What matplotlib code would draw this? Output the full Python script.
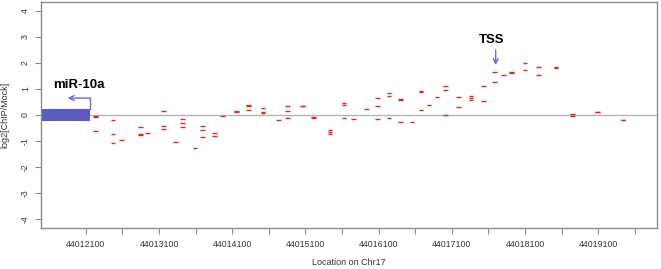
import numpy as np
import matplotlib
matplotlib.use("Agg")
import matplotlib.pyplot as plt
from matplotlib.patches import Rectangle

plt.rcParams['font.family'] = ['Liberation Sans', 'DejaVu Sans']

# probe positions on chr17 and the log2 ratios read at each one
positions = [44012233, 44012233, 44012233,
             44012469, 44012469, 44012469,
             44012588,
             44012848, 44012848, 44012848,
             44012944,
             44013157, 44013157, 44013157,
             44013326,
             44013422, 44013422, 44013422,
             44013590,
             44013690, 44013690, 44013690,
             44013860, 44013860,
             44013969,
             44014160, 44014160,
             44014319, 44014319, 44014319,
             44014520, 44014520, 44014520,
             44014729,
             44014852, 44014852, 44014852,
             44015057, 44015057,
             44015208, 44015208,
             44015436, 44015436, 44015436,
             44015627, 44015627, 44015627,
             44015757,
             44015938,
             44016083, 44016083, 44016083,
             44016243, 44016243, 44016243,
             44016403, 44016403, 44016403,
             44016557,
             44016680, 44016680, 44016680,
             44016790,
             44016899,
             44017018, 44017018, 44017018,
             44017190, 44017190,
             44017364, 44017364, 44017364,
             44017538, 44017538,
             44017688, 44017688,
             44017806,
             44017915, 44017915,
             44018102, 44018102,
             44018284, 44018284,
             44018526, 44018526,
             44018749, 44018749,
             44019091, 44019091,
             44019438, 44019438]
log_ratio = [-0.03, -0.09, -0.63,
             -0.18, -0.73, -1.09,
             -0.97,
             -0.46, -0.72, -0.76,
             -0.69,
             0.15, -0.41, -0.53,
             -1.03,
             -0.17, -0.32, -0.45,
             -1.26,
             -0.42, -0.58, -0.85,
             -0.69, -0.80,
             -0.04,
             0.15, 0.12,
             0.38, 0.35, 0.18,
             0.26, 0.12, 0.09,
             -0.19,
             0.33, 0.15, -0.13,
             0.36, 0.33,
             -0.08, -0.12,
             -0.57, -0.65, -0.73,
             0.47, 0.37, -0.10,
             -0.15,
             0.24,
             0.67, 0.35, -0.15,
             0.85, 0.72, -0.10,
             0.63, 0.58, -0.26,
             -0.27,
             0.91, 0.89, 0.19,
             0.40,
             0.70,
             1.13, 0.96, 0.00,
             0.70, 0.31,
             0.74, 0.65, 0.56,
             1.10, 0.54,
             1.64, 1.26,
             1.53,
             1.67, 1.62,
             1.99, 1.73,
             1.85, 1.55,
             1.84, 1.82,
             0.04, -0.03,
             0.13, 0.11,
             -0.18, -0.20]

x_ticks = list(range(44012100, 44019601, 500))
x_ticklabels = [str(t) if (t - 44012100) % 1000 == 0 else "" for t in x_ticks]
y_ticks = [-4, -3, -2, -1, 0, 1, 2, 3, 4]

mir_end = 44012155      # right end of the miR-10a box
tss_pos = 44017700

xmin, xmax = 44011486, 44019905

fig = plt.figure(figsize=(6.61, 2.69), dpi=100)
ax = fig.add_axes([0.062, 0.153, 0.932, 0.841])

ax.axhline(0, color="#b5b5b5", lw=1.0, zorder=1)

pos = np.array(positions)
val = np.array(log_ratio)
half = 32
ax.hlines(val, pos - half, pos + half, color="#d42a2a", lw=1.0, zorder=3)

# miR-10a box + arrow
ax.add_patch(Rectangle((xmin - 200, -0.23), mir_end - xmin + 200, 0.46,
                       facecolor="#5a5ac0", edgecolor="none", zorder=2))
ax.plot([mir_end, mir_end], [0.23, 0.65], color="#6a6ac8", lw=1.0, zorder=2)
ax.annotate("", xy=(44011850, 0.65), xytext=(mir_end + 5, 0.65),
            arrowprops=dict(arrowstyle="->", color="#6a6ac8", lw=1.0,
                            shrinkA=0, shrinkB=0, mutation_scale=9))
ax.text(44012000, 1.15, "miR-10a", ha="center", va="center",
        fontsize=9.5, fontweight="bold")

# TSS arrow
ax.annotate("", xy=(tss_pos, 1.92), xytext=(tss_pos, 2.5),
            arrowprops=dict(arrowstyle="->", color="#6a6ac8", lw=1.0,
                            shrinkA=0, shrinkB=0, mutation_scale=9))
ax.text(tss_pos - 55, 2.88, "TSS", ha="center", va="center",
        fontsize=9.5, fontweight="bold")

ax.set_xlim(xmin, xmax)
ax.set_ylim(-4.34, 4.36)
ax.set_xticks(x_ticks)
ax.set_xticklabels(x_ticklabels)
ax.set_yticks(y_ticks)
ax.set_yticklabels([str(t) for t in y_ticks], rotation=90, va="center")

for s in ax.spines.values():
    s.set_color("#8a8a8a")
    s.set_linewidth(1.0)
ax.tick_params(axis="both", direction="out", length=4, width=0.8,
               color="#8a8a8a", labelsize=6.3, labelcolor="#333333")
ax.tick_params(axis="x", pad=5)
ax.tick_params(axis="y", pad=4)

ax.set_xlabel("Location on Chr17", fontsize=6.5, color="#333333", labelpad=6)
ax.set_ylabel("log2[ChIP/Mock]", fontsize=6.5, color="#333333", labelpad=8)

fig.savefig("out.png", dpi=100)
